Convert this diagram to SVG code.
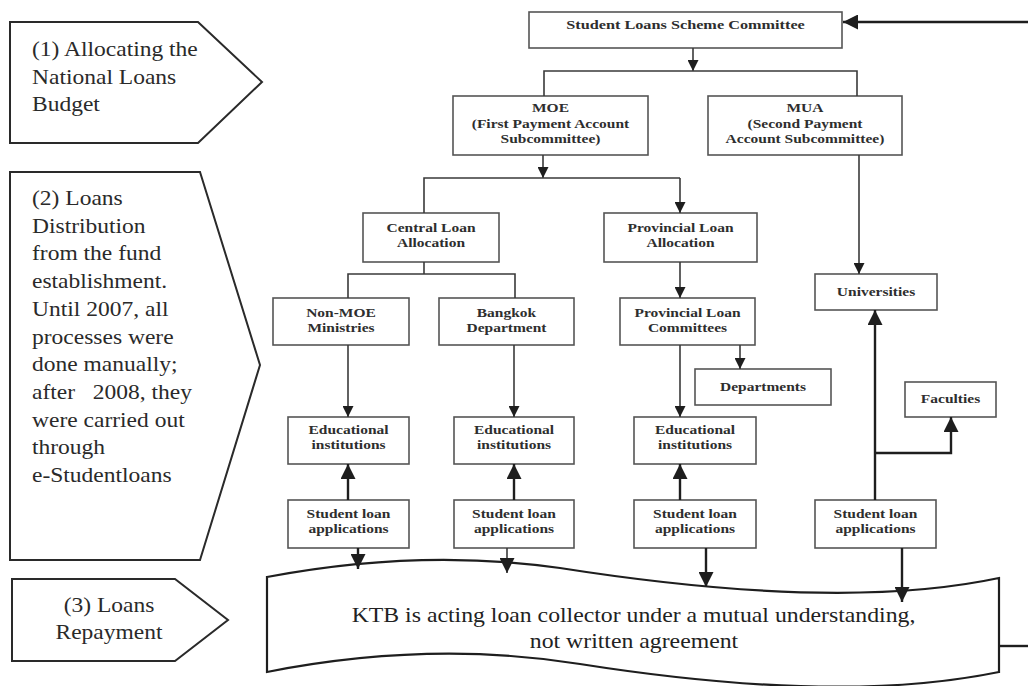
<svg xmlns="http://www.w3.org/2000/svg" width="1028" height="686" viewBox="0 0 1028 686">
<style>
.bg{fill:#ffffff}
.stage{fill:#ffffff;stroke:#2a2a2a;stroke-width:2}
.box{fill:#ffffff;stroke:#555555;stroke-width:1.6}
.wave{fill:#ffffff;stroke:#1e1e1e;stroke-width:2.2}
.lt{font-family:"Liberation Serif","Times New Roman",serif;font-size:21px;fill:#2a2a2a}
.bt{font-family:"Liberation Serif","Times New Roman",serif;font-size:12.5px;font-weight:bold;fill:#2e2e2e;text-anchor:middle}
.kt{font-family:"Liberation Serif","Times New Roman",serif;font-size:22px;fill:#222222;text-anchor:middle}
.c{fill:none;stroke:#3a3a3a;stroke-width:1.6}
.ct{fill:none;stroke:#1e1e1e;stroke-width:2.4}
.as{marker-end:url(#ah)}
.al{marker-end:url(#ahl)}
</style>
<defs>
<marker id="ah" viewBox="0 0 10 10" markerUnits="userSpaceOnUse" markerWidth="11" markerHeight="11" refX="10" refY="5" orient="auto">
<path d="M0,0 L10,5 L0,10 Z" fill="#1e1e1e"/>
</marker>
<marker id="ahl" viewBox="0 0 10 10" markerUnits="userSpaceOnUse" markerWidth="15" markerHeight="15" refX="10" refY="5" orient="auto">
<path d="M0,0 L10,5 L0,10 Z" fill="#1e1e1e"/>
</marker>
</defs>
<rect class="bg" x="0" y="0" width="1028" height="686"/>

<g id="stage1">
<path class="stage" d="M10,22 H198 L262,82 L198,143 H10 Z"/>
<g class="lt">
<text transform="translate(32,56) scale(1.12,1)">(1) Allocating the</text>
<text transform="translate(32,83.5) scale(1.12,1)">National Loans</text>
<text transform="translate(32,111) scale(1.12,1)">Budget</text>
</g>
</g>

<g id="stage2">
<path class="stage" d="M10,172 H200 L260,365 L200,560 H10 Z"/>
<g class="lt" xml:space="preserve">
<text transform="translate(32,205) scale(1.12,1)">(2) Loans</text>
<text transform="translate(32,232.7) scale(1.12,1)">Distribution</text>
<text transform="translate(32,260.4) scale(1.12,1)">from the fund</text>
<text transform="translate(32,288.1) scale(1.12,1)">establishment.</text>
<text transform="translate(32,315.8) scale(1.12,1)">Until 2007, all</text>
<text transform="translate(32,343.5) scale(1.12,1)">processes were</text>
<text transform="translate(32,371.2) scale(1.12,1)">done manually;</text>
<text transform="translate(32,398.9) scale(1.12,1)" style="white-space:pre">after   2008, they</text>
<text transform="translate(32,426.6) scale(1.12,1)">were carried out</text>
<text transform="translate(32,454.3) scale(1.12,1)">through</text>
<text transform="translate(32,482) scale(1.12,1)">e-Studentloans</text>
</g>
</g>

<g id="stage3">
<path class="stage" d="M12,579 H175 L228,620 L175,661 H12 Z"/>
<g class="lt" text-anchor="middle">
<text transform="translate(109,612) scale(1.12,1)">(3) Loans</text>
<text transform="translate(109,639) scale(1.12,1)">Repayment</text>
</g>
</g>

<g id="slsc">
<rect class="box" x="529" y="12" width="313" height="36"/>
<text class="bt" transform="translate(685.5,29) scale(1.3,1)">Student Loans Scheme Committee</text>
</g>

<g id="moe">
<rect class="box" x="453" y="96" width="195" height="59"/>
<text class="bt" transform="translate(550.5,112) scale(1.24,1)">MOE</text>
<text class="bt" transform="translate(550.5,128) scale(1.24,1)">(First Payment Account</text>
<text class="bt" transform="translate(550.5,143) scale(1.24,1)">Subcommittee)</text>
</g>

<g id="mua">
<rect class="box" x="708" y="96" width="194" height="59"/>
<text class="bt" transform="translate(805,112) scale(1.24,1)">MUA</text>
<text class="bt" transform="translate(805,128) scale(1.24,1)">(Second Payment</text>
<text class="bt" transform="translate(805,143) scale(1.24,1)">Account Subcommittee)</text>
</g>

<g id="central">
<rect class="box" x="363" y="213" width="136" height="49"/>
<text class="bt" transform="translate(431,232) scale(1.24,1)">Central Loan</text>
<text class="bt" transform="translate(431,247) scale(1.24,1)">Allocation</text>
</g>

<g id="provincial-alloc">
<rect class="box" x="604" y="213" width="153" height="49"/>
<text class="bt" transform="translate(680.5,232) scale(1.24,1)">Provincial Loan</text>
<text class="bt" transform="translate(680.5,247) scale(1.24,1)">Allocation</text>
</g>

<g id="non-moe">
<rect class="box" x="273" y="298" width="136" height="47"/>
<text class="bt" transform="translate(341,317) scale(1.24,1)">Non-MOE</text>
<text class="bt" transform="translate(341,332) scale(1.24,1)">Ministries</text>
</g>

<g id="bangkok">
<rect class="box" x="439" y="298" width="135" height="47"/>
<text class="bt" transform="translate(506.5,317) scale(1.24,1)">Bangkok</text>
<text class="bt" transform="translate(506.5,332) scale(1.24,1)">Department</text>
</g>

<g id="provincial-comm">
<rect class="box" x="620" y="298" width="135" height="47"/>
<text class="bt" transform="translate(687.5,317) scale(1.24,1)">Provincial Loan</text>
<text class="bt" transform="translate(687.5,332) scale(1.24,1)">Committees</text>
</g>

<g id="departments">
<rect class="box" x="695" y="369" width="136" height="36"/>
<text class="bt" transform="translate(763,391) scale(1.24,1)">Departments</text>
</g>

<g id="universities">
<rect class="box" x="815" y="274" width="122" height="36"/>
<text class="bt" transform="translate(876,296) scale(1.24,1)">Universities</text>
</g>

<g id="faculties">
<rect class="box" x="905" y="382" width="91" height="35"/>
<text class="bt" transform="translate(950.5,403) scale(1.24,1)">Faculties</text>
</g>

<g id="edu1">
<rect class="box" x="288" y="417" width="121" height="47"/>
<text class="bt" transform="translate(348.5,434) scale(1.24,1)">Educational</text>
<text class="bt" transform="translate(348.5,449) scale(1.24,1)">institutions</text>
</g>
<g id="edu2">
<rect class="box" x="454" y="417" width="120" height="47"/>
<text class="bt" transform="translate(514,434) scale(1.24,1)">Educational</text>
<text class="bt" transform="translate(514,449) scale(1.24,1)">institutions</text>
</g>
<g id="edu3">
<rect class="box" x="634" y="417" width="122" height="47"/>
<text class="bt" transform="translate(695,434) scale(1.24,1)">Educational</text>
<text class="bt" transform="translate(695,449) scale(1.24,1)">institutions</text>
</g>

<g id="apps1">
<rect class="box" x="288" y="500" width="121" height="48"/>
<text class="bt" transform="translate(348.5,518) scale(1.24,1)">Student loan</text>
<text class="bt" transform="translate(348.5,533) scale(1.24,1)">applications</text>
</g>
<g id="apps2">
<rect class="box" x="454" y="500" width="120" height="48"/>
<text class="bt" transform="translate(514,518) scale(1.24,1)">Student loan</text>
<text class="bt" transform="translate(514,533) scale(1.24,1)">applications</text>
</g>
<g id="apps3">
<rect class="box" x="634" y="500" width="122" height="48"/>
<text class="bt" transform="translate(695,518) scale(1.24,1)">Student loan</text>
<text class="bt" transform="translate(695,533) scale(1.24,1)">applications</text>
</g>
<g id="apps4">
<rect class="box" x="815" y="500" width="121" height="48"/>
<text class="bt" transform="translate(875.5,518) scale(1.24,1)">Student loan</text>
<text class="bt" transform="translate(875.5,533) scale(1.24,1)">applications</text>
</g>

<g id="ktb">
<path class="wave" d="M267,577 Q420,548 560,568 Q840,612 999,578 V672 Q840,705 580,664 Q430,640 267,672 Z"/>
<text class="kt" transform="translate(633.5,622) scale(1.08,1)">KTB is acting loan collector under a mutual understanding,</text>
<text class="kt" transform="translate(634,648) scale(1.08,1)">not written agreement</text>
</g>

<g id="connectors">
<path class="ct al" d="M1028,22 H843"/>
<path class="c as" d="M693,48 V71"/>
<path class="c" d="M544,96 V71 H857 V96"/>
<path class="c as" d="M543,155 V178"/>
<path class="c" d="M424,213 V178 H680"/>
<path class="c as" d="M680,178 V213"/>
<path class="c" d="M424,262 V274"/>
<path class="c" d="M348,298 V274 H515 V298"/>
<path class="c as" d="M680,262 V298"/>
<path class="c as" d="M348,345 V417"/>
<path class="c as" d="M514,345 V417"/>
<path class="c as" d="M680,345 V417"/>
<path class="c as" d="M740,345 V369"/>
<path class="c as" d="M859,155 V274"/>
<path class="ct al" d="M348,500 V464"/>
<path class="ct al" d="M514,500 V464"/>
<path class="ct al" d="M680,500 V464"/>
<path class="ct al" d="M875,500 V310"/>
<path class="ct al" d="M875,453 H951 V417"/>
<path class="ct al" d="M358,548 V569"/>
<path class="c al" d="M507,548 V573"/>
<path class="ct al" d="M706,548 V587"/>
<path class="ct al" d="M902,548 V602"/>
<path class="ct" d="M999,646 H1028"/>
</g>
</svg>
